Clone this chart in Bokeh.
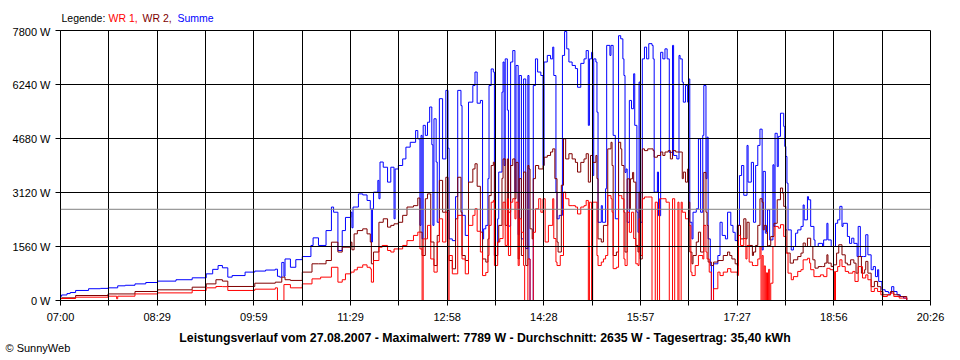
from bokeh.plotting import figure
from bokeh.layouts import column
from bokeh.models import (Range1d, FixedTicker, PrintfTickFormatter, CustomJSTickFormatter, Span)
from bokeh.core.properties import value
from bokeh.embed import file_html
from bokeh.resources import INLINE

FONT = "Liberation Sans"

# ---- data (time = minutes after 07:00, power in W) ----
x_labels = ["07:00", "08:29", "09:59", "11:29", "12:58", "14:28", "15:57", "17:27", "18:56", "20:26"]
day_span_min = 806          # 07:00 .. 20:26
y_ticks = [0, 1560, 3120, 4680, 6240, 7800]
avg_w = 2635
title_text = "Leistungsverlauf vom 27.08.2007 - Maximalwert: 7789 W - Durchschnitt: 2635 W - Tagesertrag: 35,40 kWh"
legend_names = ["Legende:", "WR 1,", "WR 2,", "Summe"]
legend_colors = ["black", "#FF0000", "#800000", "#0000FF"]

summe = [(0,120),(1,160),(6,200),(9,230),(14,290),(26,340),(37,350),(44,366),(53,424),(60,440),(69,480),(79,520),(90,560),(107,600),(122,655),(135,770),(141,900),(146,1010),(150,944),(155,675),(159,720),(171,820),(180,850),(190,880),(199,905),(201,700),(203,675),(205,1100),(207,700),(208,1200),(213,960),(218,1180),(224,1270),(232,1590),(234,1810),(239,1590),(246,2020),(251,2700),(253,2550),(257,1445),(261,2020),(264,2400),(269,2550),(270,2100),(271,2700),(276,3080),(280,3050),(284,2890),(287,2650),(288,1690),(289,2650),(290,3130),(294,3470),(295,2940),(296,4000),(299,3850),(303,3420),(306,3850),(309,2360),(310,3800),(313,3900),(317,4090),(320,4430),(324,4570),(329,4910),(331,4670),(333,2170),(334,4770),(335,1780),(336,5060),(338,4770),(340,5150),(342,5590),(344,4500),(345,2170),(346,5250),(348,4000),(349,2260),(351,5830),(354,4090),(357,6070),(359,4400),(360,1780),(363,1730),(366,3000),(368,6070),(371,5630),(372,2460),(375,1880),(378,5730),(382,6210),(384,6600),(386,5700),(389,5780),(391,1780),(392,2070),(394,2170),(396,3520),(397,6210),(399,6690),(401,6600),(402,1300),(405,2360),(406,3710),(409,6020),(410,6890),(411,3900),(412,6980),(414,5500),(415,2150),(417,6890),(419,7220),(421,3130),(422,6790),(424,1900),(425,6500),(427,1780),(429,6400),(431,1500),(433,6500),(434,1200),(435,0),(437,0),(438,6210),(440,6980),(442,6600),(445,6500),(447,3900),(448,6890),(451,7080),(454,6980),(456,7320),(457,6500),(459,3130),(460,2360),(462,2460),(465,7080),(467,7770),(469,7270),(471,6890),(474,6790),(477,6700),(479,6160),(482,6850),(485,6980),(487,7220),(489,5060),(490,6980),(492,7170),(493,3610),(494,6980),(496,6890),(497,5440),(498,2260),(501,2740),(502,2260),(505,3230),(506,7370),(509,7080),(510,7370),(512,4770),(514,2360),(517,7650),(519,7560),(521,6980),(522,6500),(523,3700),(524,3800),(525,2260),(527,5780),(529,5540),(531,6550),(532,5060),(534,2550),(535,1970),(536,6310),(537,2260),(539,6980),(541,7320),(543,6980),(545,7420),(548,7370),(549,6980),(550,3130),(553,3710),(554,2450),(556,7170),(558,6980),(560,7270),(562,6980),(564,4280),(567,7370),(568,4190),(571,4090),(573,7080),(574,6980),(576,6310),(577,5730),(579,6210),(581,5730),(582,6400),(583,2260),(585,1780),(586,2550),(589,2650),(591,4670),(593,2550),(595,4770),(596,6210),(598,3520),(599,4720),(600,1780),(602,1010),(603,0),(604,0),(605,1060),(609,1300),(611,2260),(613,1880),(616,1780),(618,2550),(621,2170),(623,1970),(625,1730),(627,2170),(629,3610),(631,3900),(633,3040),(636,4480),(637,3420),(640,3990),(642,2260),(644,3900),(646,4480),(648,4950),(650,1460),(651,3730),(653,1945),(655,2620),(657,1750),(660,3920),(661,2140),(662,4830),(664,3870),(665,4740),(667,5410),(669,5410),(670,5030),(671,4450),(672,4160),(673,3390),(674,2040),(677,1460),(679,1560),(681,1945),(683,2040),(686,2140),(688,2760),(689,2330),(692,3000),(693,2910),(695,2140),(698,1750),(699,1560),(702,1650),(706,1560),(707,1750),(710,2230),(711,1750),(714,1560),(716,1560),(718,2230),(720,2330),(722,2720),(724,2140),(725,2230),(729,1850),(731,1650),(733,1800),(735,1650),(738,1270),(739,2140),(741,1270),(744,1270),(746,1900),(748,1320),(751,890),(753,980),(755,690),(757,890),(758,550),(761,310),(764,260),(767,215),(770,400),(772,260),(775,165),(778,115),(781,70),(784,20)]

wr2 = [(0,60),(1,77),(14,144),(44,190),(69,260),(90,308),(122,385),(135,480),(144,600),(150,560),(155,405),(180,500),(199,530),(205,675),(208,600),(213,580),(224,820),(233,1060),(239,1060),(246,1155),(251,1685),(257,1400),(261,1540),(269,1685),(270,1465),(272,1925),(275,2020),(280,2070),(284,1925),(287,1690),(288,1060),(290,1400),(295,2260),(299,2360),(303,2120),(306,2170),(309,2215),(313,2260),(317,2460),(321,2700),(327,2740),(331,2960),(333,1975),(335,1300),(338,2940),(340,3080),(343,1690),(346,1010),(349,1880),(351,3470),(354,2550),(357,3560),(359,2600),(360,1155),(363,915),(366,2360),(368,3560),(371,2550),(372,1300),(375,1155),(378,3420),(382,3800),(384,3950),(386,3300),(389,1975),(391,1200),(394,1110),(396,1780),(397,3030),(399,3900),(401,3995),(402,1300),(405,1690),(406,2170),(409,3530),(410,4090),(412,2170),(414,4090),(415,2550),(417,3900),(419,4090),(421,2940),(422,3990),(424,1200),(425,3520),(427,1300),(429,3710),(431,1010),(433,3900),(434,3800),(435,2070),(437,1780),(438,3520),(440,3900),(443,3800),(447,3900),(448,4140),(451,4190),(454,4290),(456,4380),(458,3520),(460,1690),(461,1400),(464,3330),(466,4670),(468,4090),(471,4240),(474,4090),(477,3990),(479,3710),(482,3990),(485,4090),(487,4240),(489,3420),(491,4190),(493,3990),(496,4190),(497,3520),(498,1780),(501,1690),(503,2170),(507,4380),(510,4570),(511,3900),(512,1300),(515,1400),(517,4570),(519,4380),(520,3900),(522,2550),(523,1400),(525,3515),(527,2650),(528,3515),(530,3700),(531,3420),(533,1590),(535,1400),(536,3130),(537,1200),(539,4380),(541,4330),(544,4380),(547,4380),(549,4330),(550,4140),(553,4190),(556,4290),(558,4190),(560,4290),(563,4330),(565,4090),(567,4330),(570,4290),(573,4290),(575,4290),(576,3520),(577,3710),(579,3420),(581,3800),(582,2840),(583,1400),(585,1060),(586,1300),(589,1690),(591,1975),(593,1400),(596,3700),(598,2550),(599,2170),(600,1110),(603,1010),(605,1110),(609,1155),(611,1155),(614,1300),(618,1400),(620,1300),(622,1200),(625,1060),(627,1010),(628,2170),(630,1780),(633,2360),(635,1780),(636,2260),(638,1590),(641,1300),(642,1400),(644,1590),(646,2170),(648,2940),(650,2840),(651,2040),(652,2170),(654,1975),(655,1560),(656,1590),(658,1850),(661,2230),(664,2910),(667,3250),(669,3100),(670,2720),(672,2040),(673,1370),(676,1080),(679,1175),(683,1270),(686,1370),(688,1660),(690,1560),(692,1800),(695,1560),(697,1175),(699,935),(702,980),(706,980),(708,1080),(710,1320),(711,1080),(714,980),(716,1030),(719,1370),(721,1610),(724,1320),(727,1080),(729,1030),(732,1175),(735,1080),(737,790),(739,1270),(742,790),(745,890),(746,1130),(748,790),(751,400),(754,550),(757,400),(760,260),(762,165),(766,165),(769,260),(772,165),(777,115),(780,115),(784,20)]

wr1 = [(0,50),(1,58),(14,96),(44,125),(52,50),(53,125),(69,190),(90,220),(122,290),(135,366),(144,405),(150,400),(155,290),(180,327),(199,366),(201,0),(205,0),(207,460),(213,366),(224,480),(233,625),(241,675),(251,960),(257,530),(261,600),(264,770),(269,820),(272,885),(275,960),(280,1030),(284,960),(287,915),(288,530),(290,1155),(295,1540),(298,1590),(303,1445),(306,1400),(309,1490),(317,1590),(321,1730),(327,1880),(331,1975),(333,1490),(335,0),(336,1780),(340,2170),(343,1200),(346,820),(349,1690),(351,2360),(354,1690),(357,2550),(359,0),(360,1300),(363,770),(368,2460),(372,1200),(375,770),(378,2170),(382,2460),(384,2650),(386,2000),(389,1400),(391,720),(394,810),(396,1300),(397,2170),(399,2840),(401,2890),(402,1010),(405,1690),(407,1790),(410,2840),(412,1590),(414,2940),(415,1300),(417,2840),(419,2940),(421,2360),(422,2840),(424,1010),(425,2360),(427,1970),(429,1010),(430,0),(432,0),(433,1200),(434,1200),(435,0),(437,0),(438,1970),(440,2650),(443,2940),(445,2550),(447,2940),(449,1690),(452,2170),(456,2940),(457,1790),(459,1110),(460,1010),(463,1300),(466,3130),(468,2940),(471,2740),(474,2740),(477,2700),(479,2500),(482,2700),(485,2740),(487,2890),(489,0),(490,2840),(492,0),(493,2840),(496,2840),(497,1300),(498,1010),(501,1110),(503,1200),(505,1300),(507,3030),(510,2940),(511,2550),(512,920),(515,960),(517,3030),(519,3030),(520,2940),(522,1200),(523,1010),(525,2550),(527,1970),(529,2550),(531,1790),(533,1060),(535,1010),(536,2360),(537,1300),(539,2940),(541,2990),(544,2990),(547,2990),(548,0),(550,0),(551,2840),(553,0),(554,0),(555,2940),(558,2940),(561,2840),(563,2840),(564,0),(566,0),(567,2940),(569,0),(570,0),(572,2840),(573,0),(574,0),(575,2840),(576,2550),(579,2360),(582,2170),(584,820),(585,720),(588,1010),(591,1300),(595,1200),(596,2170),(598,1400),(599,1200),(601,820),(603,0),(604,0),(605,340),(609,820),(611,720),(614,820),(618,920),(621,820),(623,820),(627,720),(628,1880),(630,1590),(633,1790),(635,1200),(636,1590),(638,1110),(641,1010),(643,1010),(646,1200),(648,1560),(649,0),(650,1300),(651,0),(652,1000),(653,0),(654,800),(655,0),(656,900),(657,0),(658,500),(660,1560),(662,2140),(665,2090),(667,2190),(670,1850),(672,1370),(674,790),(677,600),(679,690),(683,840),(686,890),(688,1175),(692,1220),(694,1080),(695,890),(698,690),(701,690),(704,740),(707,690),(710,930),(713,890),(716,840),(717,0),(718,840),(720,980),(722,1175),(724,980),(727,840),(730,790),(734,840),(736,550),(739,980),(743,650),(746,740),(748,600),(751,260),(754,350),(757,260),(760,165),(762,115),(766,165),(769,215),(772,115),(777,70),(780,70),(784,20)]

series = [("Summe", summe, "#0000FF"), ("WR 2", wr2, "#800000"), ("WR 1", wr1, "#FF0000")]

W = 960


def text_strip(height):
    f = figure(width=W, height=height, output_backend="svg", toolbar_location=None, title=None,
               x_range=Range1d(0, W), y_range=Range1d(0, height),
               x_axis_location=None, y_axis_location=None,
               min_border=0, background_fill_color="white", border_fill_color="white")
    f.frame_align = False
    f.outline_line_color = None
    f.xgrid.visible = False
    f.ygrid.visible = False
    return f


# ---- top strip: legend text ----
top = text_strip(25)
top.text(x=[61, 108, 142, 177], y=[8, 8, 8, 8], text=legend_names, text_color=legend_colors,
         text_font=value(FONT), text_font_size=value("10.5px"), text_baseline="middle", text_align="left")

# ---- main chart ----
p = figure(width=W, height=302, output_backend="svg", toolbar_location=None, title=None,
           x_range=Range1d(0, day_span_min), y_range=Range1d(0, 7800),
           min_border_left=60, min_border_right=30, min_border_top=5, min_border_bottom=27,
           background_fill_color="white", border_fill_color="white")
p.frame_align = False
p.outline_line_color = "black"
p.outline_line_width = 1

for name, pts, col in series:
    t = [a for a, b in pts]
    w = [b for a, b in pts]
    p.step(t, w, mode="after", line_color=col, line_width=1)

step = day_span_min / 18
xt = FixedTicker(ticks=[i * step for i in range(19)], minor_ticks=[])
yt = FixedTicker(ticks=y_ticks, minor_ticks=[])

p.xaxis.ticker = xt
p.xaxis.formatter = CustomJSTickFormatter(args=dict(labels=x_labels, step=step), code="""
    const i = Math.round(tick / step);
    return (i % 2 == 0) ? labels[i / 2] : "";
""")
p.yaxis.ticker = yt
p.yaxis.formatter = PrintfTickFormatter(format="%d W")

for ax in (p.xaxis, p.yaxis):
    ax.axis_line_color = "black"
    ax.major_tick_line_color = "black"
    ax.major_tick_out = 5
    ax.major_tick_in = 0
    ax.minor_tick_out = 0
    ax.minor_tick_in = 0
    ax.major_label_text_font = FONT
    ax.major_label_text_font_size = "11px"
    ax.major_label_text_color = "black"
    ax.major_label_standoff = 5

p.xgrid.ticker = xt
p.ygrid.ticker = yt
for g in (p.xgrid, p.ygrid):
    g.grid_line_color = "black"
    g.grid_line_alpha = 1.0
    g.grid_line_width = 1
    g.level = "overlay"

p.add_layout(Span(location=avg_w, dimension="width", line_color="#808080", line_width=1, level="overlay"))

# ---- bottom strip: summary line and copyright ----
bottom = text_strip(33)
bottom.text(x=[484.5], y=[23], text=[title_text], text_color="black",
            text_font=value(FONT), text_font_size=value("12.3px"), text_font_style="bold",
            text_baseline="middle", text_align="center")
bottom.text(x=[5], y=[13], text=["\u00a9 SunnyWeb"], text_color="black",
            text_font=value(FONT), text_font_size=value("11px"),
            text_baseline="middle", text_align="left")

layout = column(top, p, bottom, spacing=0)
open("out.html", "w").write(file_html(layout, INLINE))
